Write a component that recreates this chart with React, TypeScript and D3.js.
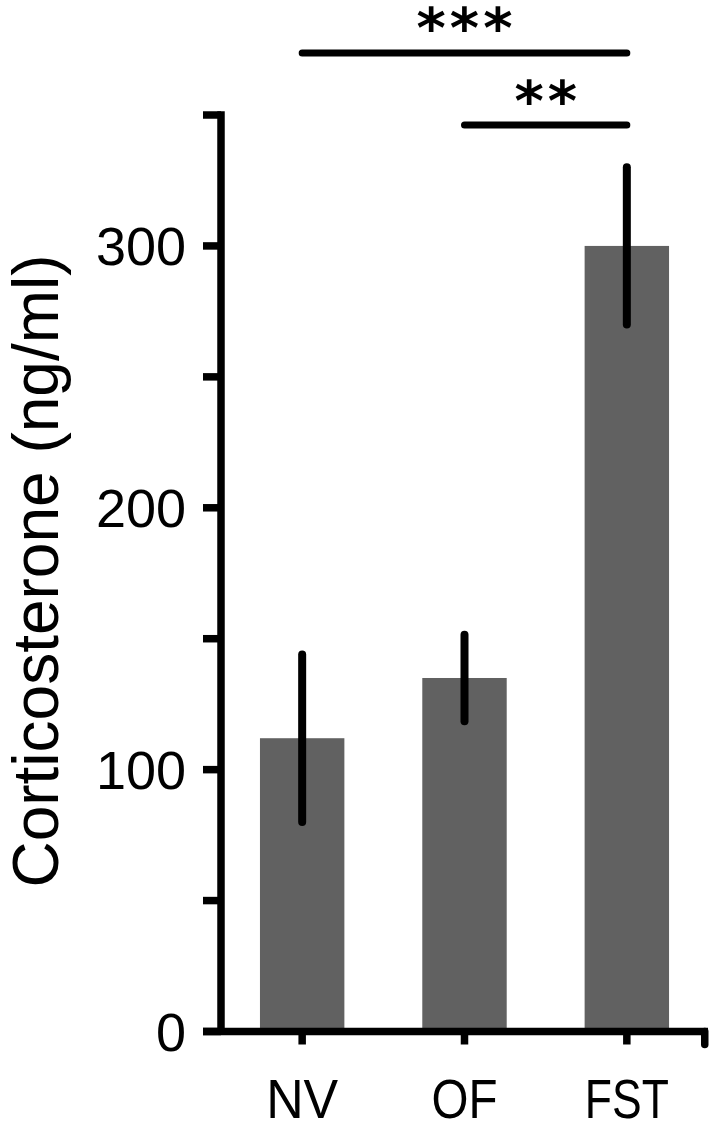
import React from "react";
import * as d3 from "d3";

const categories = ["NV", "OF", "FST"];
const means = [112, 135, 300];
const errors = [32, 16.5, 30];
const yTickValues = [0, 50, 100, 150, 200, 250, 300, 350];
const yTickLabels = [0, 100, 200, 300];
const compFrom = ["NV", "OF"];
const compTo = ["FST", "FST"];
const compLabels = ["***", "**"];
const yLabel = "Corticosterone (ng/ml)";

const W = 715;
const H = 1124;
const axisX = 221;
const axisY = 1031.5;
const yTop = 115;
const xEnd = 708;
const sigLineY = [53, 125];
const sigTextY = [27, 100];
const labelWidths: Record<string, number> = { NV: 72, OF: 66, FST: 84 };

export default function App() {
  const y = d3.scaleLinear().domain([0, 350]).range([axisY, yTop]);
  const x = d3
    .scaleBand<string>()
    .domain(categories)
    .range([axisX, xEnd])
    .paddingInner(0.48)
    .paddingOuter(0.24);
  const cx = (c: string) => (x(c) as number) + x.bandwidth() / 2;
  const font = "'Liberation Sans', Arial, sans-serif";
  const sw = 7.5;

  return (
    <svg
      width={W}
      height={H}
      viewBox={`0 0 ${W} ${H}`}
      style={{ position: "absolute", left: 0, top: 0, display: "block", background: "#fff" }}
    >
      {/* bars */}
      {categories.map((c, i) => (
        <rect
          key={c}
          x={x(c)}
          y={y(means[i])}
          width={x.bandwidth()}
          height={axisY - y(means[i])}
          fill="#616161"
        />
      ))}
      {/* error bars */}
      {categories.map((c, i) => (
        <line
          key={c + "e"}
          x1={cx(c)}
          x2={cx(c)}
          y1={y(means[i] + errors[i])}
          y2={y(means[i] - errors[i])}
          stroke="#000"
          strokeWidth={8}
          strokeLinecap="round"
        />
      ))}
      {/* y axis */}
      <line x1={axisX} x2={axisX} y1={yTop - sw / 2} y2={axisY} stroke="#000" strokeWidth={sw} />
      {yTickValues.map((v) => (
        <line key={v} x1={axisX - 18} x2={axisX} y1={y(v)} y2={y(v)} stroke="#000" strokeWidth={sw} />
      ))}
      {yTickLabels.map((v) => (
        <text
          key={v}
          x={186}
          y={y(v)}
          dy="0.36em"
          textAnchor="end"
          fontFamily={font}
          fontSize={54}
          fill="#000"
        >
          {v}
        </text>
      ))}
      {/* x axis */}
      <line x1={axisX - 18} x2={xEnd} y1={axisY} y2={axisY} stroke="#000" strokeWidth={sw} />
      <line x1={xEnd - sw / 2 + 0.5} x2={xEnd - sw / 2 + 0.5} y1={axisY} y2={axisY + 13} stroke="#000" strokeWidth={sw} strokeLinecap="round" />
      {categories.map((c) => (
        <line key={c + "t"} x1={cx(c)} x2={cx(c)} y1={axisY} y2={axisY + 13} stroke="#000" strokeWidth={sw} />
      ))}
      {categories.map((c) => (
        <text
          key={c + "l"}
          x={cx(c)}
          y={1118}
          textAnchor="middle"
          fontFamily={font}
          fontSize={56}
          textLength={labelWidths[c]}
          lengthAdjust="spacingAndGlyphs"
          fill="#000"
        >
          {c}
        </text>
      ))}
      {/* y label */}
      <text
        transform={`translate(58, 571) rotate(-90)`}
        textAnchor="middle"
        fontFamily={font}
        fontSize={64}
        fill="#000"
      >
        {yLabel}
      </text>
      {/* significance */}
      {compFrom.map((f, i) => {
        const x1 = cx(f);
        const x2 = cx(compTo[i]);
        return (
          <g key={i}>
            <line x1={x1} x2={x2} y1={sigLineY[i]} y2={sigLineY[i]} stroke="#000" strokeWidth={7} strokeLinecap="round" />
            <text
              x={(x1 + x2) / 2 + 2}
              y={sigTextY[i] + 20}
              textAnchor="middle"
              fontFamily="'DejaVu Sans', sans-serif"
              fontWeight="bold"
              fontSize={56}
              letterSpacing={4}
              fill="#000"
            >
              {compLabels[i]}
            </text>
          </g>
        );
      })}
    </svg>
  );
}
